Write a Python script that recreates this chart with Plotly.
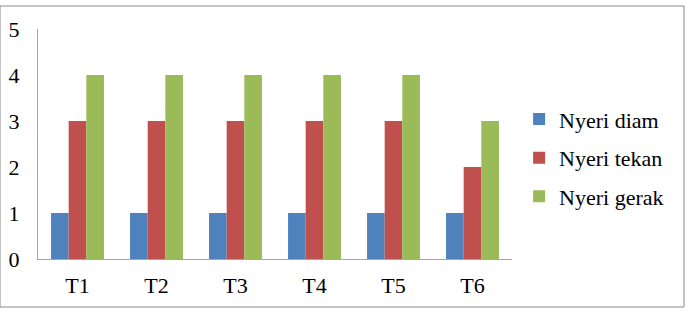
import plotly.graph_objects as go

categories = ["T1", "T2", "T3", "T4", "T5", "T6"]
nyeri_diam = [1, 1, 1, 1, 1, 1]
nyeri_tekan = [3, 3, 3, 3, 3, 2]
nyeri_gerak = [4, 4, 4, 4, 4, 3]
y_ticks = [0, 1, 2, 3, 4, 5]

series = [
    ("Nyeri diam", nyeri_diam, "#4F81BD"),
    ("Nyeri tekan", nyeri_tekan, "#C0504D"),
    ("Nyeri gerak", nyeri_gerak, "#9BBB59"),
]

fig = go.Figure()
for i, (name, vals, col) in enumerate(series):
    fig.add_trace(go.Bar(x=categories, y=vals, name=name, marker_color=col,
                         marker_line_width=0, legendgroup=f"g{i}"))

font = dict(family="Times New Roman, Liberation Serif, serif", size=22, color="#000000")
fig.update_layout(
    width=691, height=312,
    margin=dict(l=38, r=179, t=29, b=53, autoexpand=False),
    paper_bgcolor="white", plot_bgcolor="white",
    barmode="group", bargap=0.33, bargroupgap=0,
    font=font,
    showlegend=True,
    legend=dict(x=1.015, y=0.44, xanchor="left", yanchor="middle",
                traceorder="grouped", tracegroupgap=7, font=font,
                itemwidth=30),
    xaxis=dict(showline=True, linecolor="#A6A6A6", linewidth=1, ticks="",
               showgrid=False, ticklabelstandoff=7, tickfont=font, automargin=False),
    yaxis=dict(range=[0, 5], tickvals=y_ticks, showline=True, linecolor="#A6A6A6",
               linewidth=1, ticks="", showgrid=False, zeroline=False,
               ticklabelstandoff=13, tickfont=font, automargin=False),
    shapes=[dict(type="rect", xref="paper", yref="paper",
                 x0=-38/474, x1=(684-38)/474, y0=-(307-259)/230, y1=(259-6)/230,
                 line=dict(color="#888888", width=1), fillcolor="rgba(0,0,0,0)")],
)

fig.write_html("out.html")
